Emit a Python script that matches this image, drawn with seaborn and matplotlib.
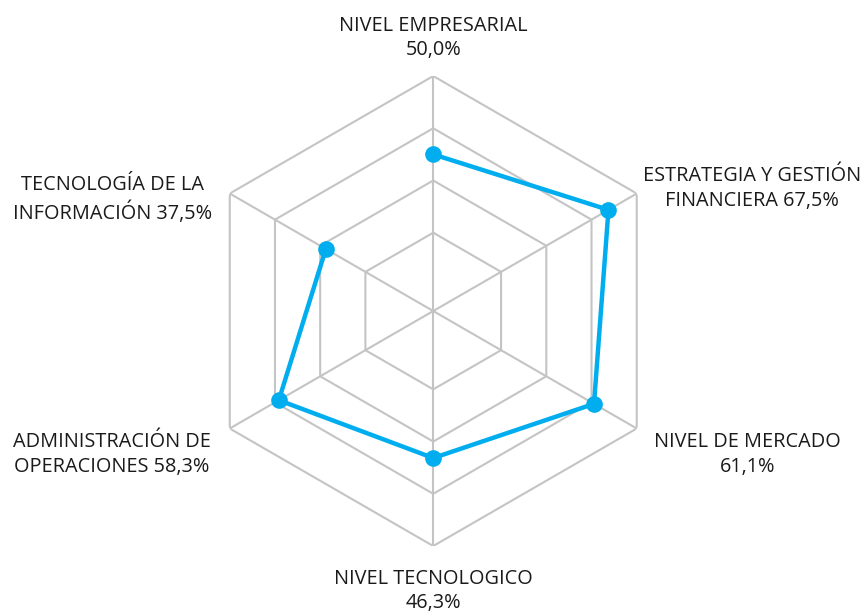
import numpy as np
import seaborn as sns
import matplotlib.pyplot as plt

# Datos del radar
categorias = ["NIVEL EMPRESARIAL", "ESTRATEGIA Y GESTIÓN FINANCIERA",
              "NIVEL DE MERCADO", "NIVEL TECNOLOGICO",
              "ADMINISTRACIÓN DE OPERACIONES", "TECNOLOGÍA DE LA INFORMACIÓN"]
valores = [50.0, 67.5, 61.1, 46.3, 58.3, 37.5]
etiquetas = ["NIVEL EMPRESARIAL\n50,0%", "ESTRATEGIA Y GESTIÓN\nFINANCIERA 67,5%",
             "NIVEL DE MERCADO\n61,1%", "NIVEL TECNOLOGICO\n46,3%",
             "ADMINISTRACIÓN DE\nOPERACIONES 58,3%", "TECNOLOGÍA DE LA\nINFORMACIÓN 37,5%"]
anillos = [20, 40, 60, 80]

sns.set_style("white")
plt.rcParams["font.family"] = ["Open Sans", "DejaVu Sans"]

azul = "#00aeef"
gris = "#c4c4c4"

n = len(valores)
theta = np.linspace(0, 2 * np.pi, n, endpoint=False)
theta_c = np.append(theta, theta[0])
vals_c = np.append(valores, valores[0])

fig = plt.figure(figsize=(8.62, 6.14), dpi=100)
ax = fig.add_axes([0.2300, 0.1107, 0.5452, 0.7655], projection="polar")
ax.set_theta_zero_location("N")
ax.set_theta_direction(-1)

# rejilla hexagonal
for r in anillos:
    ax.plot(theta_c, [r] * (n + 1), color=gris, lw=1.5, zorder=1)
for t in theta:
    ax.plot([t, t], [-10, anillos[-1]], color=gris, lw=1.5, zorder=1)

sns.lineplot(x=theta_c, y=vals_c, sort=False, color=azul, lw=3.2,
             marker="o", markersize=12, markeredgewidth=0, ax=ax, zorder=3)

ax.set_ylim(-10, 80)
ax.grid(False)
ax.spines["polar"].set_visible(False)
ax.set_xticks([])
ax.set_yticks([])
ax.set_xlabel("")
ax.set_ylabel("")

# etiquetas (desplazamiento en pixeles desde el vertice exterior)
offsets = [(0, 38), (115, 5), (111, -26), (0, -45), (-118, -26), (-117, -6)]
for t, txt, off in zip(theta, etiquetas, offsets):
    ax.annotate(txt, xy=(t, anillos[-1]), xytext=off, textcoords="offset pixels",
                ha="center", va="center", multialignment="center",
                fontsize=14.3, color="#1a1a1a", linespacing=1.32,
                annotation_clip=False)

plt.savefig("out.png", dpi=100)
